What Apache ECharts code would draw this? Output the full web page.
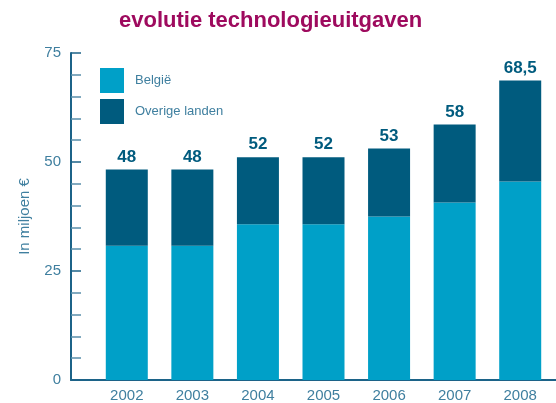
<!DOCTYPE html>
<html>
<head>
<meta charset="utf-8">
<script src="https://cdn.jsdelivr.net/npm/echarts@6/dist/echarts.min.js"></script>
<style>
  html, body { margin: 0; padding: 0; background: #fff; }
  #chart { width: 556px; height: 403px; }
</style>
</head>
<body>
<div id="chart"></div>
<script>
// Data
const years = ['2002', '2003', '2004', '2005', '2006', '2007', '2008'];
const belgie = [30.8, 30.8, 35.7, 35.7, 37.5, 40.7, 45.5];
const overige = [17.5, 17.5, 15.4, 15.4, 15.6, 17.9, 23.2];
const totalLabels = ['48', '48', '52', '52', '53', '58', '68,5'];
const yTicks = [0, 25, 50, 75];

// Colours
const COLORS = {
  title: '#9e0a5e',
  light: '#00a0c8',
  dark: '#005b7e',
  axis: '#1c6388',
  text: '#3f7f9f'
};

const FONT = 'Liberation Sans, Arial, sans-serif';

const chart = echarts.init(document.getElementById('chart'));

chart.setOption({
  animation: false,
  title: {
    text: 'evolutie technologieuitgaven',
    left: 119,
    top: 10,
    padding: 0,
    textStyle: { color: COLORS.title, fontSize: 22, fontWeight: 'bold', fontFamily: FONT }
  },
  legend: {
    orient: 'vertical',
    left: 100,
    top: 68,
    padding: 0,
    itemWidth: 24,
    itemHeight: 25,
    itemGap: 6,
    icon: 'rect',
    textStyle: { color: COLORS.text, fontSize: 13, fontFamily: FONT, padding: [0, 0, 0, 6] },
    data: ['België', 'Overige landen']
  },
  grid: [
    // bars
    { left: 94, right: 3, top: 53, bottom: 23 },
    // axes frame
    { left: 71, right: 0, top: 53, bottom: 23 }
  ],
  xAxis: [
    {
      type: 'category',
      gridIndex: 0,
      data: years,
      axisLine: { show: false },
      axisTick: { show: false },
      axisLabel: { color: COLORS.text, fontSize: 15, fontFamily: FONT, margin: 8 }
    },
    {
      type: 'value',
      gridIndex: 1,
      min: 0,
      max: 1,
      axisLine: { show: true, lineStyle: { color: COLORS.axis, width: 2 } },
      axisTick: { show: false },
      axisLabel: { show: false },
      splitLine: { show: false }
    }
  ],
  yAxis: [
    {
      type: 'value',
      gridIndex: 0,
      min: 0,
      max: 75,
      show: false
    },
    {
      type: 'value',
      gridIndex: 1,
      min: 0,
      max: 75,
      interval: 25,
      name: 'In miljoen €',
      nameLocation: 'middle',
      nameGap: 39,
      nameTextStyle: { color: COLORS.text, fontSize: 15, fontFamily: FONT },
      axisLine: { show: true, lineStyle: { color: COLORS.axis, width: 2 } },
      axisTick: { show: true, inside: true, length: 10, lineStyle: { color: COLORS.axis, width: 1.5 } },
      minorTick: { show: true, splitNumber: 5, length: 10, lineStyle: { color: '#5a8fab', width: 1.5 } },
      axisLabel: {
        color: COLORS.text, fontSize: 15, fontFamily: FONT, margin: 10,
        formatter: v => yTicks.includes(v) ? String(v) : ''
      },
      splitLine: { show: false }
    }
  ],
  series: [
    {
      name: 'België',
      type: 'bar',
      stack: 'total',
      xAxisIndex: 0,
      yAxisIndex: 0,
      barWidth: 42,
      itemStyle: { color: COLORS.light },
      data: belgie
    },
    {
      name: 'Overige landen',
      type: 'bar',
      stack: 'total',
      xAxisIndex: 0,
      yAxisIndex: 0,
      barWidth: 42,
      itemStyle: { color: COLORS.dark },
      label: {
        show: true,
        position: 'top',
        distance: 4,
        color: COLORS.dark,
        fontSize: 17,
        fontWeight: 'bold',
        fontFamily: FONT,
        formatter: p => totalLabels[p.dataIndex]
      },
      data: overige
    }
  ]
});
</script>
</body>
</html>
